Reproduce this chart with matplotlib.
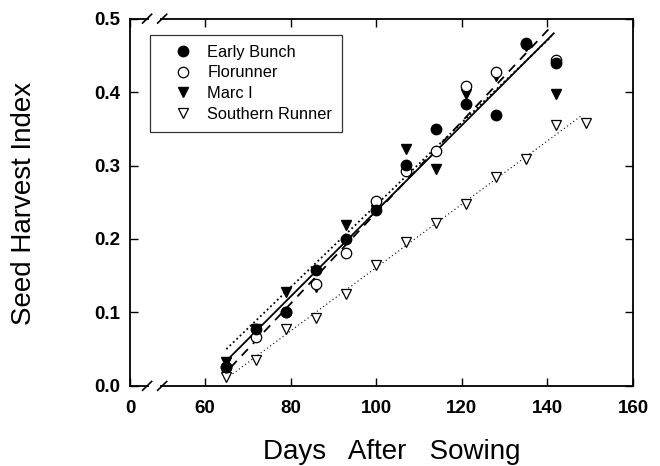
import matplotlib
matplotlib.use("Agg")
import matplotlib.pyplot as plt

# Dados (dias apos semeadura x indice de colheita)
dias = [65, 72, 79, 86, 93, 100, 107, 114, 121, 128, 135, 142]
early_bunch = [0.025, 0.077, 0.100, 0.158, 0.200, 0.239, 0.301, 0.350, 0.384, 0.369, 0.465, 0.440]
florunner = [0.025, 0.067, 0.100, 0.139, 0.181, 0.252, 0.292, 0.320, 0.408, 0.427, 0.467, 0.444]
marc_i = [0.032, 0.078, 0.128, 0.135, 0.219, 0.240, 0.323, 0.295, 0.398, 0.422, 0.463, 0.398]
dias_sr = [65, 72, 79, 86, 93, 100, 107, 114, 121, 128, 135, 142, 149]
southern_runner = [0.012, 0.035, 0.078, 0.092, 0.125, 0.164, 0.196, 0.222, 0.248, 0.284, 0.309, 0.355, 0.358]

# Retas de regressao (extremos)
reta_eb_x, reta_eb_y = [65, 141.5], [0.034, 0.480]
reta_fl_x, reta_fl_y = [66, 141], [0.025, 0.490]
reta_mc_x, reta_mc_y = [65, 141], [0.050, 0.476]
reta_sr_x, reta_sr_y = [65, 148], [0.010, 0.368]

x_ticks = [42.5, 60, 80, 100, 120, 140, 160]
x_labels = ["0", "60", "80", "100", "120", "140", "160"]
y_ticks = [0.0, 0.1, 0.2, 0.3, 0.4, 0.5]

plt.rcParams["font.family"] = ["Liberation Sans", "DejaVu Sans"]

fig = plt.figure(figsize=(6.6, 4.66), dpi=100)
ax = fig.add_axes([0.197, 0.172, 0.762, 0.788])

ax.plot(reta_eb_x, reta_eb_y, color="black", linestyle="-", linewidth=1.3)
ax.plot(reta_fl_x, reta_fl_y, color="black", linestyle=(0, (5, 4)), linewidth=1.3)
ax.plot(reta_mc_x, reta_mc_y, color="black", linestyle=(0, (1, 1.6)), linewidth=1.3)
ax.plot(reta_sr_x, reta_sr_y, color="black", linestyle=(0, (1, 2.5)), linewidth=0.8)

ms = 7.5
ax.plot(dias_sr, southern_runner, "v", color="black", markerfacecolor="white",
        markeredgewidth=0.9, markersize=ms, linestyle="none", label="Southern Runner")
ax.plot(dias, marc_i, "v", color="black", markersize=ms, linestyle="none", label="Marc I")
ax.plot(dias, florunner, "o", color="black", markerfacecolor="white",
        markeredgewidth=0.9, markersize=ms, linestyle="none", label="Florunner")
ax.plot(dias, early_bunch, "o", color="black", markersize=ms, linestyle="none", label="Early Bunch")

ax.set_xlim(42.5, 160)
ax.set_ylim(0, 0.5)
ax.set_xticks(x_ticks)
ax.set_xticklabels(x_labels)
ax.set_yticks(y_ticks)
ax.set_yticklabels([f"{v:.1f}" for v in y_ticks])
ax.tick_params(direction="in", top=True, right=True, length=6, width=1, labelsize=13.5)
ax.tick_params(axis="x", pad=10)
ax.tick_params(axis="y", pad=7)
for lab in ax.get_xticklabels() + ax.get_yticklabels():
    lab.set_fontweight("bold")
for s in ax.spines.values():
    s.set_linewidth(1.3)

ax.set_xlabel("Days   After   Sowing", fontsize=20)
ax.xaxis.set_label_coords(0.52, -0.145)
ax.set_ylabel("Seed Harvest Index", fontsize=20)
ax.yaxis.set_label_coords(-0.185, 0.496)

# Quebra do eixo x
for y0 in (0, 1):
    ax.add_patch(plt.Rectangle((0.038, y0 - 0.01), 0.022, 0.02, transform=ax.transAxes,
                               facecolor="white", edgecolor="none", clip_on=False, zorder=5))
    for xb in (0.034, 0.064):
        ax.plot([xb - 0.009, xb + 0.009], [y0 - 0.012, y0 + 0.012], transform=ax.transAxes,
                color="black", linewidth=1.2, clip_on=False, zorder=6)

handles, labels = ax.get_legend_handles_labels()
ordem = [3, 2, 1, 0]
leg = ax.legend([handles[i] for i in ordem], [labels[i] for i in ordem],
                loc="upper left", bbox_to_anchor=(0.04, 0.956), borderaxespad=0,
                frameon=True, fancybox=False, edgecolor="black", fontsize=11.8,
                handlelength=2.8, handletextpad=0.1, borderpad=0.6, labelspacing=0.35)
leg.get_frame().set_linewidth(0.9)

plt.savefig("out.png", dpi=100)
